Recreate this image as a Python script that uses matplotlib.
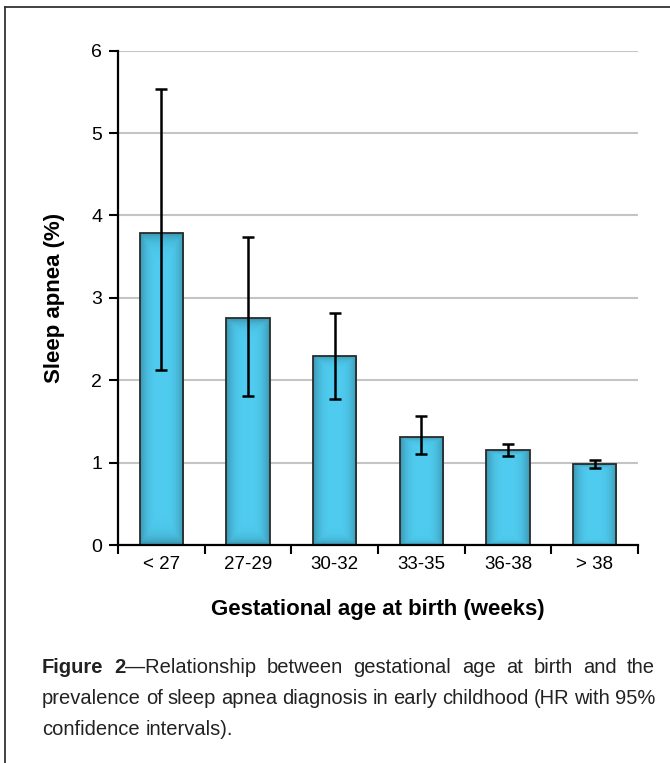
import numpy as np
import matplotlib
matplotlib.use("Agg")
import matplotlib.pyplot as plt
from matplotlib.lines import Line2D

plt.rcParams['font.family'] = ['Liberation Sans Narrow', 'Liberation Sans', 'DejaVu Sans']

# data
categories = ['< 27', '27-29', '30-32', '33-35', '36-38', '> 38']
prevalence = [3.79, 2.75, 2.30, 1.31, 1.15, 0.98]
ci_low = [2.13, 1.81, 1.77, 1.10, 1.08, 0.93]
ci_high = [5.53, 3.74, 2.82, 1.56, 1.22, 1.03]
yticks = [0, 1, 2, 3, 4, 5, 6]

W, H = 670, 763
fig = plt.figure(figsize=(W / 100, H / 100), dpi=100)
ax = fig.add_axes([118 / W, 1 - 545 / H, (638 - 118) / W, (545 - 50.7) / H])

x = np.arange(len(categories))
prev = np.array(prevalence)
yerr = [prev - np.array(ci_low), np.array(ci_high) - prev]

bars = ax.bar(x, prev, width=0.5, color='#48C4EC', edgecolor='#2b2b2b', linewidth=1.3, zorder=2)

# soft shading on the bars (lighter in the middle, darker at edges)
gx = np.linspace(-1, 1, 60)
gy = np.linspace(-1, 1, 120)
GX, GY = np.meshgrid(gx, gy)
shade = 1 - 0.26 * np.clip(np.maximum(np.abs(GX) ** 3, np.abs(GY) ** 20), 0, 1)
center = np.array([0.31, 0.80, 0.94])
img = shade[..., None] * center[None, None, :]
for b in bars:
    bx, by = b.get_x(), b.get_y()
    im = ax.imshow(img, extent=[bx, bx + b.get_width(), by, by + b.get_height()],
                   aspect='auto', zorder=2.1, interpolation='bilinear')
    im.set_clip_path(b)
    b.set_facecolor('none')
    b.set_zorder(2.2)

ax.errorbar(x, prev, yerr=yerr, fmt='none', ecolor='black', elinewidth=1.8,
            capsize=4.4, capthick=1.8, zorder=3)

ax.set_xlim(-0.5, len(categories) - 0.5)
ax.set_ylim(0, 6)
ax.set_yticks(yticks)
ax.set_yticklabels([str(t) for t in yticks], fontsize=14)
ax.set_xticks(np.arange(len(categories) + 1) - 0.5)
ax.set_xticklabels([])
ax.set_xticks(x, minor=True)
ax.set_xticklabels(categories, minor=True, fontsize=13.5)
ax.tick_params(axis='x', which='major', direction='out', length=6.5, width=1.5)
ax.tick_params(axis='x', which='minor', length=0, pad=8)
ax.tick_params(axis='y', direction='out', length=6.5, width=1.5, pad=5)

ax.grid(axis='y', color='#c4c4c4', linewidth=1.5, zorder=0)
ax.set_axisbelow(True)
for s in ['top', 'right']:
    ax.spines[s].set_visible(False)
for s in ['left', 'bottom']:
    ax.spines[s].set_linewidth(1.6)

ax.set_ylabel('Sleep apnea (%)', fontsize=16, fontweight='bold', labelpad=19)
ax.set_xlabel('Gestational age at birth (weeks)', fontsize=16, fontweight='bold', labelpad=19)

# outer frame (top and left edges)
fig.add_artist(Line2D([5 / W, 1], [1 - 7 / H, 1 - 7 / H], color='#333333', lw=1.3))
fig.add_artist(Line2D([5 / W, 5 / W], [0, 1 - 7 / H], color='#333333', lw=1.3))

# justified caption
caption_lines = [
    [[('Figure', 'bold')], [('2', 'bold'), ('\u2014Relationship', 'normal')], [('between', 'normal')],
     [('gestational', 'normal')], [('age', 'normal')], [('at', 'normal')], [('birth', 'normal')],
     [('and', 'normal')], [('the', 'normal')]],
    [[(w, 'normal')] for w in 'prevalence of sleep apnea diagnosis in early childhood (HR with 95%'.split()],
    [[(w, 'normal')] for w in 'confidence intervals).'.split()],
]
caption_y = [673, 704, 735]
left_px, right_px = 42, 655
cap_size = 14.5
renderer = fig.canvas.get_renderer()


def seg_width(text, weight):
    t = fig.text(0, 0, text, fontsize=cap_size, fontweight=weight)
    w = t.get_window_extent(renderer).width
    t.remove()
    return w


space_w = seg_width('a b', 'normal') - seg_width('ab', 'normal')
for i, (line, ypx) in enumerate(zip(caption_lines, caption_y)):
    widths = [[seg_width(s, wt) for s, wt in word] for word in line]
    total = sum(sum(w) for w in widths)
    if i < len(caption_lines) - 1:
        gap = (right_px - left_px - total) / (len(line) - 1)
    else:
        gap = space_w
    xp = left_px
    for word, ws in zip(line, widths):
        for (s, wt), w in zip(word, ws):
            fig.text(xp / W, 1 - ypx / H, s, fontsize=cap_size, fontweight=wt,
                     color='#222222', va='baseline', ha='left')
            xp += w
        xp += gap

fig.savefig('out.png', dpi=100)
